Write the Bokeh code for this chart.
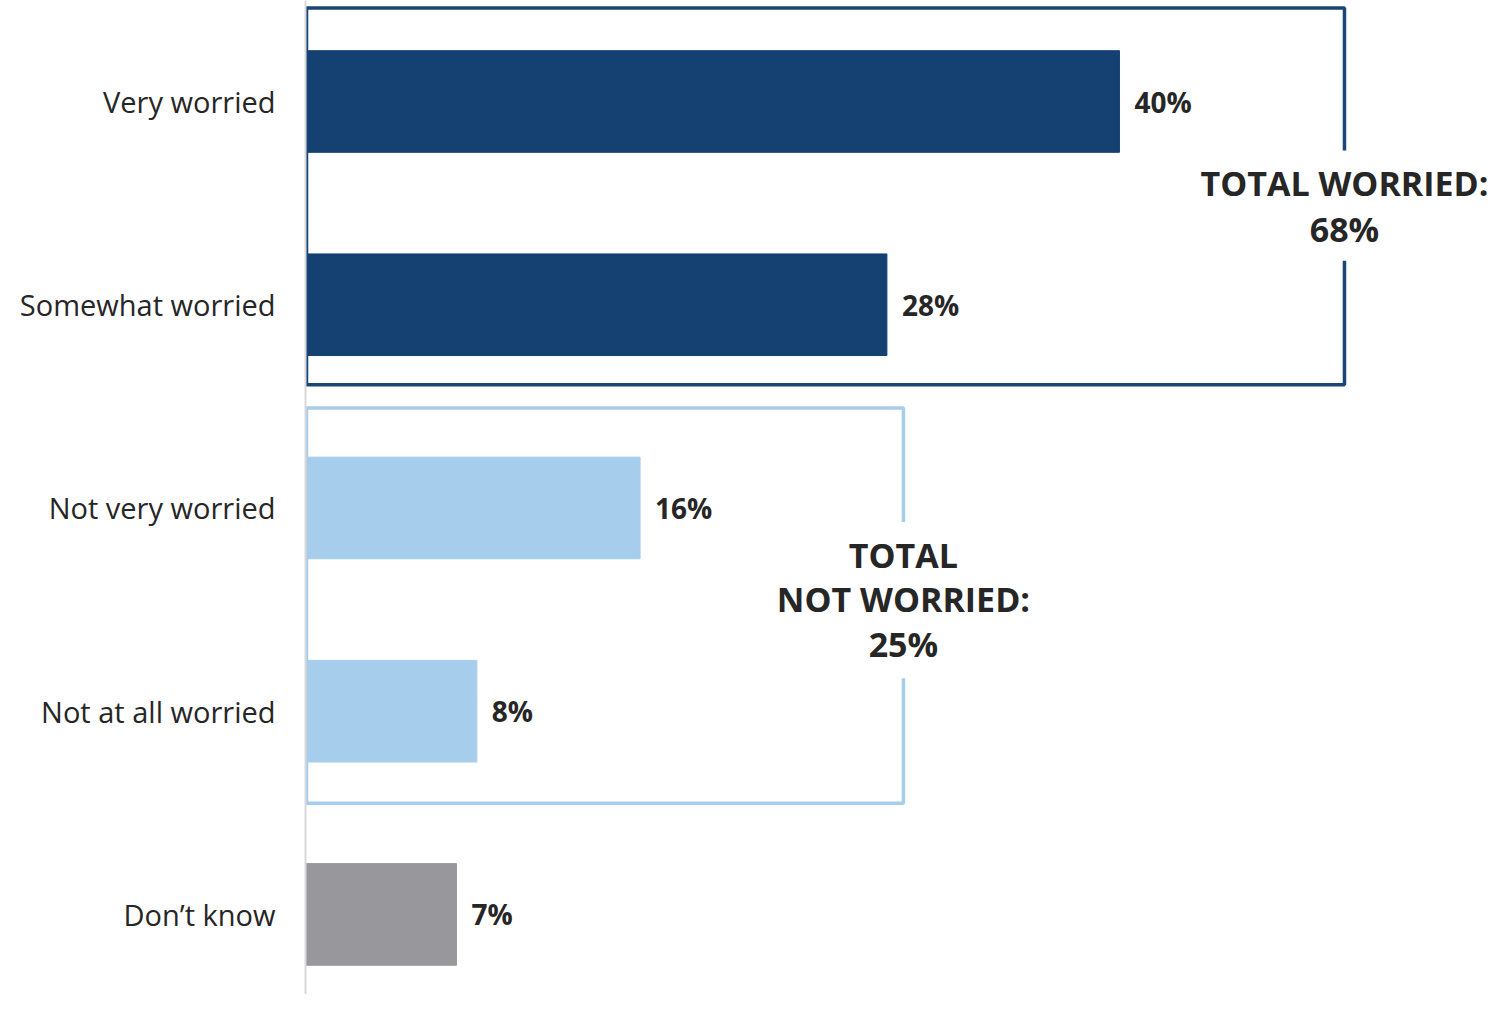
from bokeh.plotting import figure
from bokeh.models import Range1d, FixedTicker, ColumnDataSource
from bokeh.core.properties import value
from bokeh.embed import file_html
from bokeh.resources import INLINE

# ---- data ----
categories = ["Very worried", "Somewhat worried", "Not very worried", "Not at all worried", "Don\u2019t know"]
values = [39.9, 28.5, 16.4, 8.4, 7.4]
value_labels = ["40%", "28%", "16%", "8%", "7%"]
bar_colors = ["#144171", "#144171", "#a6cdeb", "#a6cdeb", "#98979c"]
total_worried_lines = ["TOTAL WORRIED:", "68%"]
total_not_worried_lines = ["TOTAL", "NOT WORRIED:", "25%"]

ys = list(range(len(categories)))

W, H = 1490, 994
LEFT = 305
p = figure(width=W, height=H, output_backend="svg", toolbar_location=None,
           x_range=Range1d(0, (W - LEFT) / 20.4),
           y_range=Range1d(4.394, -0.497),
           x_axis_location=None, min_border_left=LEFT, min_border_right=0,
           min_border_top=0, min_border_bottom=0)
p.outline_line_color = None
p.xgrid.visible = False
p.ygrid.visible = False
p.background_fill_color = "white"
p.border_fill_color = "white"

ax = p.yaxis[0]
ax.ticker = FixedTicker(ticks=ys)
ax.major_label_overrides = {i: c for i, c in zip(ys, categories)}
ax.major_tick_line_color = None
ax.minor_tick_line_color = None
ax.major_tick_in = 0
ax.major_tick_out = 0
ax.major_label_standoff = 30
ax.major_label_text_font = "Open Sans"
ax.major_label_text_font_size = "29px"
ax.major_label_text_color = "#262626"
ax.axis_line_color = "#d9d9d9"
ax.axis_line_width = 2

src = ColumnDataSource(dict(y=ys, right=values, color=bar_colors, label=value_labels))
p.hbar(y="y", left=0, right="right", height=0.5, color="color", source=src)
p.text(x="right", y="y", text="label", source=src, x_offset=15,
       text_font=value("Open Sans"), text_font_style="bold", text_font_size="28px",
       text_color="#262626", text_baseline="middle", text_align="left")

# bracket boxes
dark_right = 50.93
p.line(x=[dark_right, dark_right, 0.05, 0.05, dark_right, dark_right],
       y=[0.241, -0.46, -0.46, 1.394, 1.394, 0.783],
       line_color="#1a4677", line_width=3.5)
light_right = 29.31
p.line(x=[light_right, light_right, 0.05, 0.05, light_right, light_right],
       y=[2.069, 1.508, 1.508, 3.453, 3.453, 2.838],
       line_color="#a6cdeb", line_width=3.5)

p.text(x=[dark_right] * 2, y=[0.399, 0.626], text=total_worried_lines,
       text_font=value("Open Sans"), text_font_style="bold", text_font_size="34px",
       text_color="#262626", text_baseline="middle", text_align="center")
p.text(x=[light_right] * 3, y=[2.231, 2.448, 2.670], text=total_not_worried_lines,
       text_font=value("Open Sans"), text_font_style="bold", text_font_size="34px",
       text_color="#262626", text_baseline="middle", text_align="center")

open("out.html", "w").write(file_html(p, INLINE))
